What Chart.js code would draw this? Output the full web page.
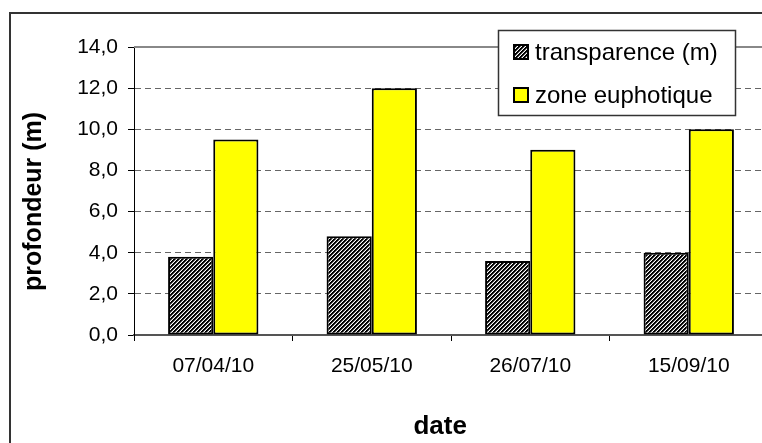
<!DOCTYPE html>
<html><head><meta charset="utf-8">
<script src="https://cdn.jsdelivr.net/npm/chart.js@4/dist/chart.umd.min.js"></script>
<style>
html,body{margin:0;padding:0;background:#fff;overflow:hidden;width:762px;height:443px}
#wrap{position:absolute;left:0;top:0;width:780px;height:443px}
</style></head><body>
<div id="wrap"><canvas id="c" width="780" height="443"></canvas></div>
<script>
const categories = ['07/04/10', '25/05/10', '26/07/10', '15/09/10'];
const transparence = [3.8, 4.8, 3.6, 4.0];
const zoneEuphotique = [9.5, 12.0, 9.0, 10.0];
const seriesNames = ['transparence (m)', 'zone euphotique'];
const yTickValues = [0, 2, 4, 6, 8, 10, 12, 14];
const xTitle = 'date';
const yTitle = 'profondeur (m)';

const FONT = "'Liberation Sans', Arial, sans-serif";
Chart.defaults.font.family = FONT;
Chart.defaults.color = '#000';

function makeHatch() {
  const t = document.createElement('canvas');
  t.width = 4; t.height = 4;
  const g = t.getContext('2d');
  const img = g.createImageData(4, 4);
  const shades = [0, 0, 110, 255];
  for (let y = 0; y < 4; y++) {
    for (let x = 0; x < 4; x++) {
      const v = shades[(x + y) % 4];
      const i = (y * 4 + x) * 4;
      img.data[i] = v; img.data[i + 1] = v; img.data[i + 2] = v; img.data[i + 3] = 255;
    }
  }
  g.putImageData(img, 0, 0);
  return g.createPattern(t, 'repeat');
}
const ctx = document.getElementById('c').getContext('2d');
const hatch = makeHatch();

const framePlugin = {
  id: 'frame',
  beforeDraw(chart) {
    const c = chart.ctx;
    c.save();
    c.strokeStyle = '#333'; c.lineWidth = 2;
    c.beginPath();
    c.moveTo(10, 460); c.lineTo(10, 13); c.lineTo(800, 13);
    c.stroke();
    c.restore();
  },
  afterDraw(chart) {
    const c = chart.ctx;
    const a = chart.chartArea;
    c.save();
    c.strokeStyle = '#888'; c.lineWidth = 2;
    c.beginPath(); c.moveTo(a.left, a.top); c.lineTo(a.right, a.top); c.stroke();
    // legend box
    const bx = 498, by = 30, bw = 237, bh = 85;
    c.fillStyle = '#fff'; c.fillRect(bx, by, bw, bh);
    c.strokeStyle = '#333'; c.lineWidth = 1.5;
    c.strokeRect(bx + 0.5, by + 0.5, bw, bh);
    const ys = [52, 95];
    chart.data.datasets.forEach((ds, i) => {
      const sy = ys[i];
      c.fillStyle = ds.backgroundColor;
      c.fillRect(514, sy - 7, 14, 14);
      c.strokeStyle = '#000'; c.lineWidth = 2;
      c.strokeRect(514, sy - 7, 14, 14);
      c.fillStyle = '#000';
      c.font = '24px ' + FONT;
      c.textBaseline = 'middle';
      c.textAlign = 'left';
      c.fillText(ds.label, 535, sy + 1);
    });
    c.restore();
  }
};

new Chart(ctx, {
  type: 'bar',
  data: {
    labels: categories,
    datasets: [
      { label: seriesNames[0], data: transparence, backgroundColor: hatch, borderColor: '#000', borderWidth: 2, borderSkipped: false },
      { label: seriesNames[1], data: zoneEuphotique, backgroundColor: '#ffff00', borderColor: '#000', borderWidth: 2, borderSkipped: false }
    ]
  },
  options: {
    responsive: false,
    animation: false,
    devicePixelRatio: 1,
    layout: { padding: { left: 0, right: 12, top: 47, bottom: 0 } },
    datasets: { bar: { categoryPercentage: 0.57, barPercentage: 1.0 } },
    plugins: { legend: { display: false }, tooltip: { enabled: false } },
    scales: {
      x: {
        grid: { display: true, drawOnChartArea: false, drawTicks: true, tickLength: 6, tickColor: '#000', offset: true },
        border: { display: true, color: '#555', width: 2 },
        ticks: { font: { size: 21 }, padding: 13, color: '#000', maxRotation: 0 },
        title: { display: true, text: xTitle + '   ', font: { size: 26, weight: 'bold' }, padding: { top: 0, bottom: 1 }, color: '#000' },
        afterFit(s) { s.height = 108; }
      },
      y: {
        min: 0, max: 14,
        afterBuildTicks(s) { s.ticks = yTickValues.map(v => ({ value: v })); },
        grid: { color: '#666', lineWidth: 1, tickLength: 6, tickColor: '#000', drawTicks: true },
        border: { display: true, color: '#000', width: 1, dash: [6, 4] },
        ticks: { font: { size: 21 }, padding: 10, color: '#000', callback: v => v.toFixed(1).replace('.', ',') },
        title: { display: true, text: yTitle + '   ', font: { size: 25, weight: 'bold' }, padding: { top: 19, bottom: 0 }, color: '#000' },
        afterFit(s) { s.width = 134; }
      }
    }
  },
  plugins: [framePlugin]
});
</script>
</body></html>
